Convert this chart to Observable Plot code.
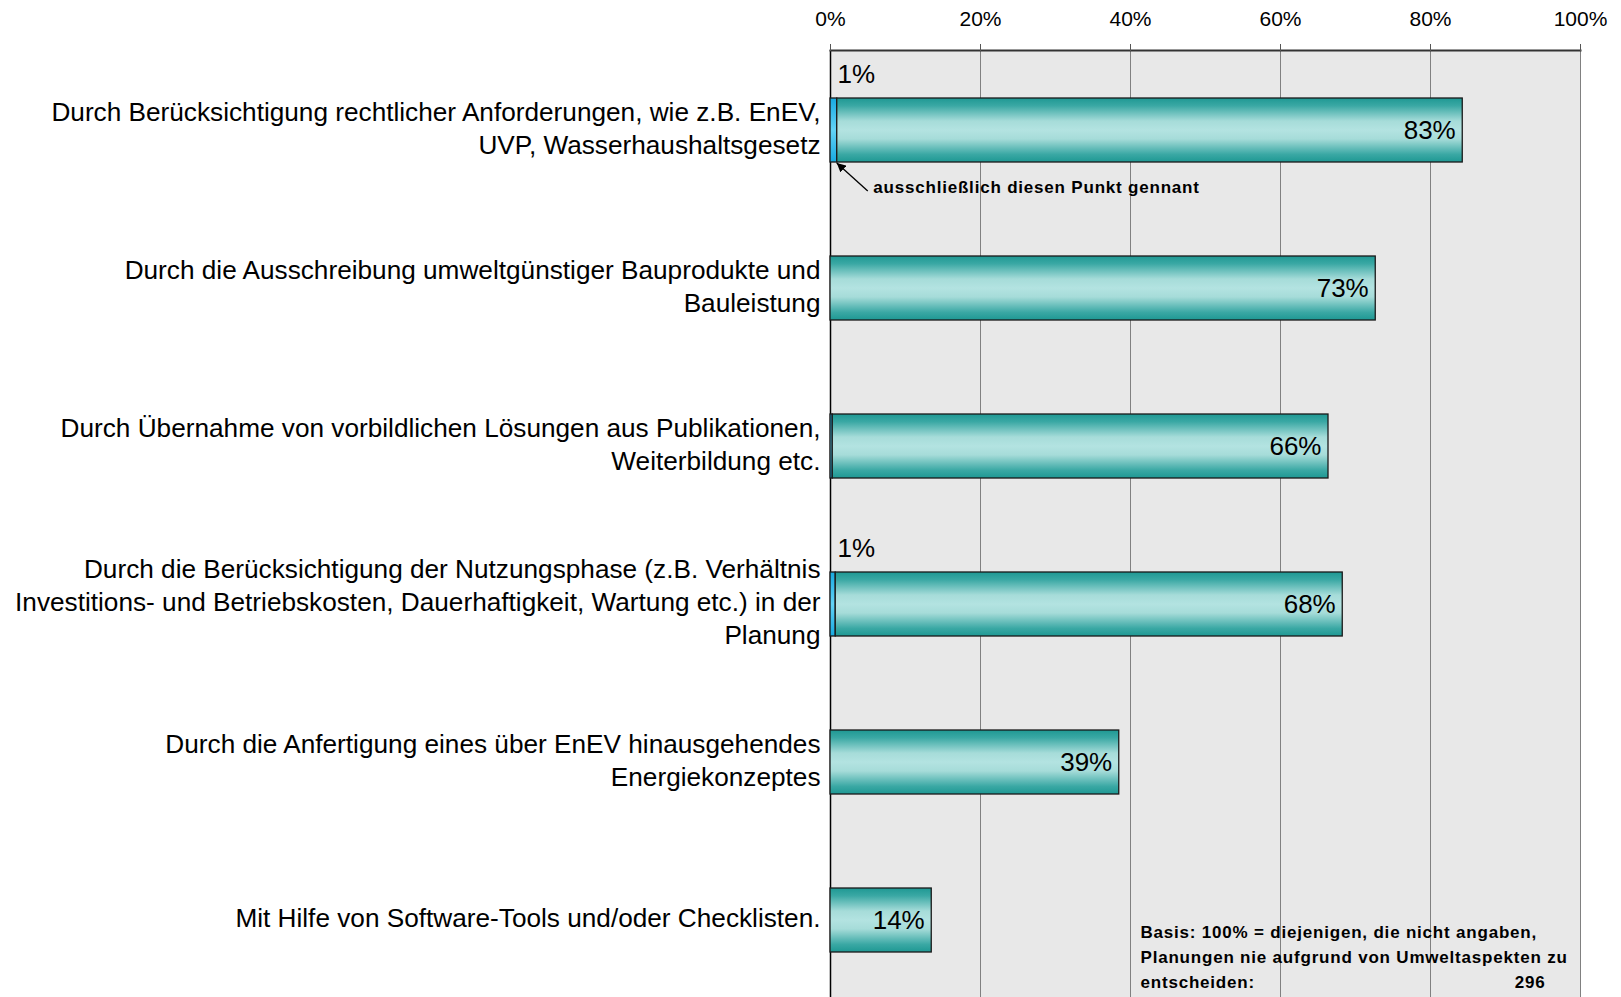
<!DOCTYPE html>
<html><head><meta charset="utf-8">
<script src="https://cdn.jsdelivr.net/npm/d3@7"></script>
<script src="https://cdn.jsdelivr.net/npm/@observablehq/plot@0.6"></script>
<style>body{margin:0;background:#fff} svg{display:block}</style>
</head><body><div id="chart"></div>
<script>
const categories = [
  "Durch Berücksichtigung rechtlicher Anforderungen, wie z.B. EnEV,\nUVP, Wasserhaushaltsgesetz",
  "Durch die Ausschreibung umweltgünstiger Bauprodukte und\nBauleistung",
  "Durch Übernahme von vorbildlichen Lösungen aus Publikationen,\nWeiterbildung etc.",
  "Durch die Berücksichtigung der Nutzungsphase (z.B. Verhältnis\nInvestitions- und Betriebskosten, Dauerhaftigkeit, Wartung etc.) in der\nPlanung",
  "Durch die Anfertigung eines über EnEV hinausgehendes\nEnergiekonzeptes",
  "Mit Hilfe von Software-Tools und/oder Checklisten."
];
// "ausschließlich diesen Punkt gennant" share (cyan segment)
const exclusiveShare = [0.9, 0, 0.3, 0.7, 0, 0];
const exclusiveLabels = ["1%", "", "", "1%", "", ""];
// share of mentions (teal segment)
const mentionShare = [83.4, 72.7, 66.1, 67.6, 38.5, 13.5];
const xTicks = [0, 20, 40, 60, 80, 100];
const gridTicks = [20, 40, 60, 80, 100];
const annotationText = "ausschließlich diesen Punkt gennant";
const noteText = "Basis: 100% = diejenigen, die nicht angaben,\nPlanungen nie aufgrund von Umweltaspekten zu\nentscheiden:";
const noteBase = "296";

const rows = categories.map((c, i) => ({
  cat: c, ex: exclusiveShare[i], exLabel: exclusiveLabels[i], men: mentionShare[i],
  total: exclusiveShare[i] + mentionShare[i]
}));

const plot = Plot.plot({
  width: 1621,
  height: 997,
  marginLeft: 830,
  marginRight: 41,
  marginTop: 50,
  marginBottom: 0,
  style: {fontFamily: "'Liberation Sans', Arial, sans-serif", background: "#fff", color: "#000"},
  x: {domain: [0, 100], label: null},
  y: {domain: categories, range: [50, 1000], paddingInner: 0.595, paddingOuter: 0.288, axis: null},
  marks: [
    Plot.frame({fill: "#e8e8e8", stroke: "none"}),
    Plot.ruleX(gridTicks, {stroke: "#808080", strokeWidth: 1}),
    Plot.ruleX([0], {stroke: "#000", strokeWidth: 1.5}),
    Plot.frame({anchor: "top", stroke: "#333", strokeWidth: 2}),
    Plot.axisX(xTicks, {anchor: "top", tickFormat: d => d + "%", tickSize: 7, tickPadding: 18,
      fontSize: 21, stroke: "#555", fill: "#000", label: null}),
    Plot.barX(rows.filter(d => d.ex > 0), {x1: 0, x2: "ex", y: "cat",
      fill: "url(#cyanGrad)", stroke: "#1a1a1a", strokeWidth: 1.3}),
    Plot.barX(rows, {x1: "ex", x2: "total", y: "cat",
      fill: "url(#tealGrad)", stroke: "#1a1a1a", strokeWidth: 1.3}),
    Plot.text(rows, {x: "total", y: "cat", text: d => Math.round(d.men) + "%",
      textAnchor: "end", dx: -7, fontSize: 26, fill: "#000"}),
    Plot.text(rows.filter(d => d.exLabel), {x: 0, y: "cat", text: "exLabel",
      textAnchor: "start", dx: 7, dy: -56, fontSize: 26, fill: "#000"}),
    Plot.text(rows, {x: 0, y: "cat", text: "cat", textAnchor: "end", dx: -10, dy: -4,
      fontSize: 26.2, lineHeight: 1.26, fill: "#000"}),
    Plot.text([rows[0]], {x: "ex", y: "cat", text: () => annotationText, textAnchor: "start",
      dx: 36, dy: 57, fontSize: 17, fontWeight: "bold", fill: "#000"}),
    Plot.text([noteText], {frameAnchor: "bottom-left", dx: 310, dy: -10, textAnchor: "start",
      lineAnchor: "bottom", lineHeight: 1.47, fontSize: 17, fontWeight: "bold", fill: "#000"}),
    Plot.text([noteBase], {frameAnchor: "bottom-right", dx: -35, dy: -10, textAnchor: "end",
      lineAnchor: "bottom", fontSize: 17, fontWeight: "bold", fill: "#000"})
  ]
});

const svg = d3.select(plot);
const defs = svg.insert("defs", ":first-child");
const teal = defs.append("linearGradient").attr("id", "tealGrad").attr("x1", 0).attr("y1", 0).attr("x2", 0).attr("y2", 1);
[[0, "#1e9893"], [0.12, "#3aa8a4"], [0.36, "#a6dcd9"], [0.5, "#b3e3e1"], [0.64, "#a6dcd9"], [0.88, "#3aa8a4"], [1, "#1e9893"]]
  .forEach(([o, c]) => teal.append("stop").attr("offset", o).attr("stop-color", c));
const cyan = defs.append("linearGradient").attr("id", "cyanGrad").attr("x1", 0).attr("y1", 0).attr("x2", 0).attr("y2", 1);
[[0, "#17a9e0"], [0.5, "#63d3f6"], [1, "#17a9e0"]]
  .forEach(([o, c]) => cyan.append("stop").attr("offset", o).attr("stop-color", c));
const marker = defs.append("marker").attr("id", "arrowHead").attr("viewBox", "0 0 10 10")
  .attr("refX", 10).attr("refY", 5).attr("markerWidth", 9).attr("markerHeight", 9)
  .attr("markerUnits", "userSpaceOnUse").attr("orient", "auto");
marker.append("path").attr("d", "M0,0L10,5L0,10Z").attr("fill", "#000");

// letter-spaced bold notes
svg.selectAll("text").filter(function() { return this.getAttribute("font-weight") === "bold" || this.parentNode.getAttribute("font-weight") === "bold"; })
  .attr("letter-spacing", "0.8px");

// annotation arrow pointing to the cyan segment of the first bar
const xs = plot.scale("x"), ys = plot.scale("y");
const tipX = xs.apply(rows[0].ex), tipY = ys.apply(rows[0].cat) + ys.bandwidth + 1;
svg.append("line").attr("x1", tipX + 31).attr("y1", tipY + 28).attr("x2", tipX).attr("y2", tipY)
  .attr("stroke", "#000").attr("stroke-width", 1.3).attr("marker-end", "url(#arrowHead)");

document.getElementById("chart").appendChild(plot);
</script>
</body></html>
